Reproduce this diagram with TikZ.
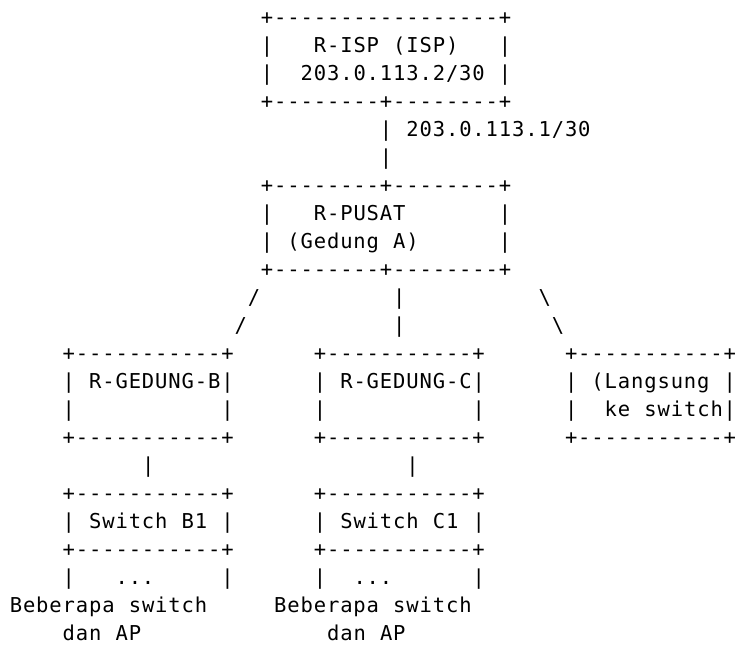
\documentclass[tikz,border=0pt]{standalone}
\usepackage{fontspec}
\setmonofont{DejaVu Sans Mono}[LetterSpace=4.28,WordSpace=1.0711]
\tikzset{%
	txt/.style	= {anchor=base west, inner sep=0pt, outer sep=0pt, font=\ttfamily\fontsize{10.25pt}{12pt}\selectfont}, % one piece of text
}
\newcommand{\smallrule}{+-----------+}
\newcommand{\widerule}{+--------+--------+}

\begin{document}
\begin{tikzpicture}[x=6.61pt, y=-14pt]
	\useasboundingbox (-4.9pt,12.25pt) rectangle (363.1pt,-310.25pt);

	\draw % Drawing the ISP router and its uplink
	node at (19, 0) [txt] (ispTop) {+-----------------+}
	node at (19, 1) [txt] (ispL1) {|}
	node at (23, 1) [txt] (ispName) {R-ISP (ISP)}
	node at (37, 1) [txt] (ispR1) {|}
	node at (19, 2) [txt] (ispL2) {|}
	node at (22, 2) [txt] (ispAddr) {203.0.113.2/30}
	node at (37, 2) [txt] (ispR2) {|}
	node at (19, 3) [txt] (ispBot) {\widerule}
	node at (28, 4) [txt] (up1) {|}
	node at (30, 4) [txt] (upAddr) {203.0.113.1/30}
	node at (28, 5) [txt] (up2) {|}
	;

	\draw % Drawing the central router
	node at (19, 6) [txt] (pusatTop) {\widerule}
	node at (19, 7) [txt] (pusatL1) {|}
	node at (23, 7) [txt] (pusatName) {R-PUSAT}
	node at (37, 7) [txt] (pusatR1) {|}
	node at (19, 8) [txt] (pusatL2) {|}
	node at (21, 8) [txt] (pusatSub) {(Gedung A)}
	node at (37, 8) [txt] (pusatR2) {|}
	node at (19, 9) [txt] (pusatBot) {\widerule}
	node at (18, 10) [txt] (toB1) {/}
	node at (17, 11) [txt] (toB2) {/}
	node at (29, 10) [txt] (toC1) {|}
	node at (29, 11) [txt] (toC2) {|}
	node at (40, 10) [txt] (toD1) {\textbackslash}
	node at (41, 11) [txt] (toD2) {\textbackslash}
	;

	\draw % Drawing the building routers
	node at (4, 12) [txt] (gbTop) {\smallrule}
	node at (4, 13) [txt] (gbL1) {|}
	node at (6, 13) [txt] (gbName) {R-GEDUNG-B}
	node at (16, 13) [txt] (gbR1) {|}
	node at (4, 14) [txt] (gbL2) {|}
	node at (16, 14) [txt] (gbR2) {|}
	node at (4, 15) [txt] (gbBot) {\smallrule}
	node at (23, 12) [txt] (gcTop) {\smallrule}
	node at (23, 13) [txt] (gcL1) {|}
	node at (25, 13) [txt] (gcName) {R-GEDUNG-C}
	node at (35, 13) [txt] (gcR1) {|}
	node at (23, 14) [txt] (gcL2) {|}
	node at (35, 14) [txt] (gcR2) {|}
	node at (23, 15) [txt] (gcBot) {\smallrule}
	node at (42, 12) [txt] (dirTop) {\smallrule}
	node at (42, 13) [txt] (dirL1) {|}
	node at (44, 13) [txt] (dirName) {(Langsung}
	node at (54, 13) [txt] (dirR1) {|}
	node at (42, 14) [txt] (dirL2) {|}
	node at (45, 14) [txt] (dirSub) {ke switch}
	node at (54, 14) [txt] (dirR2) {|}
	node at (42, 15) [txt] (dirBot) {\smallrule}
	;

	\draw % Drawing the switches
	node at (10, 16) [txt] (toSwB) {|}
	node at (30, 16) [txt] (toSwC) {|}
	node at (4, 17) [txt] (swbTop) {\smallrule}
	node at (4, 18) [txt] (swbL) {|}
	node at (6, 18) [txt] (swbName) {Switch B1}
	node at (16, 18) [txt] (swbR) {|}
	node at (4, 19) [txt] (swbBot) {\smallrule}
	node at (4, 20) [txt] (swbL2) {|}
	node at (8, 20) [txt] (swbDots) {...}
	node at (16, 20) [txt] (swbR2) {|}
	node at (23, 17) [txt] (swcTop) {\smallrule}
	node at (23, 18) [txt] (swcL) {|}
	node at (25, 18) [txt] (swcName) {Switch C1}
	node at (35, 18) [txt] (swcR) {|}
	node at (23, 19) [txt] (swcBot) {\smallrule}
	node at (23, 20) [txt] (swcL2) {|}
	node at (26, 20) [txt] (swcDots) {...}
	node at (35, 20) [txt] (swcR2) {|}
	node at (0, 21) [txt] (noteB1) {Beberapa switch}
	node at (4, 22) [txt] (noteB2) {dan AP}
	node at (20, 21) [txt] (noteC1) {Beberapa switch}
	node at (24, 22) [txt] (noteC2) {dan AP}
	;
\end{tikzpicture}
\end{document}
